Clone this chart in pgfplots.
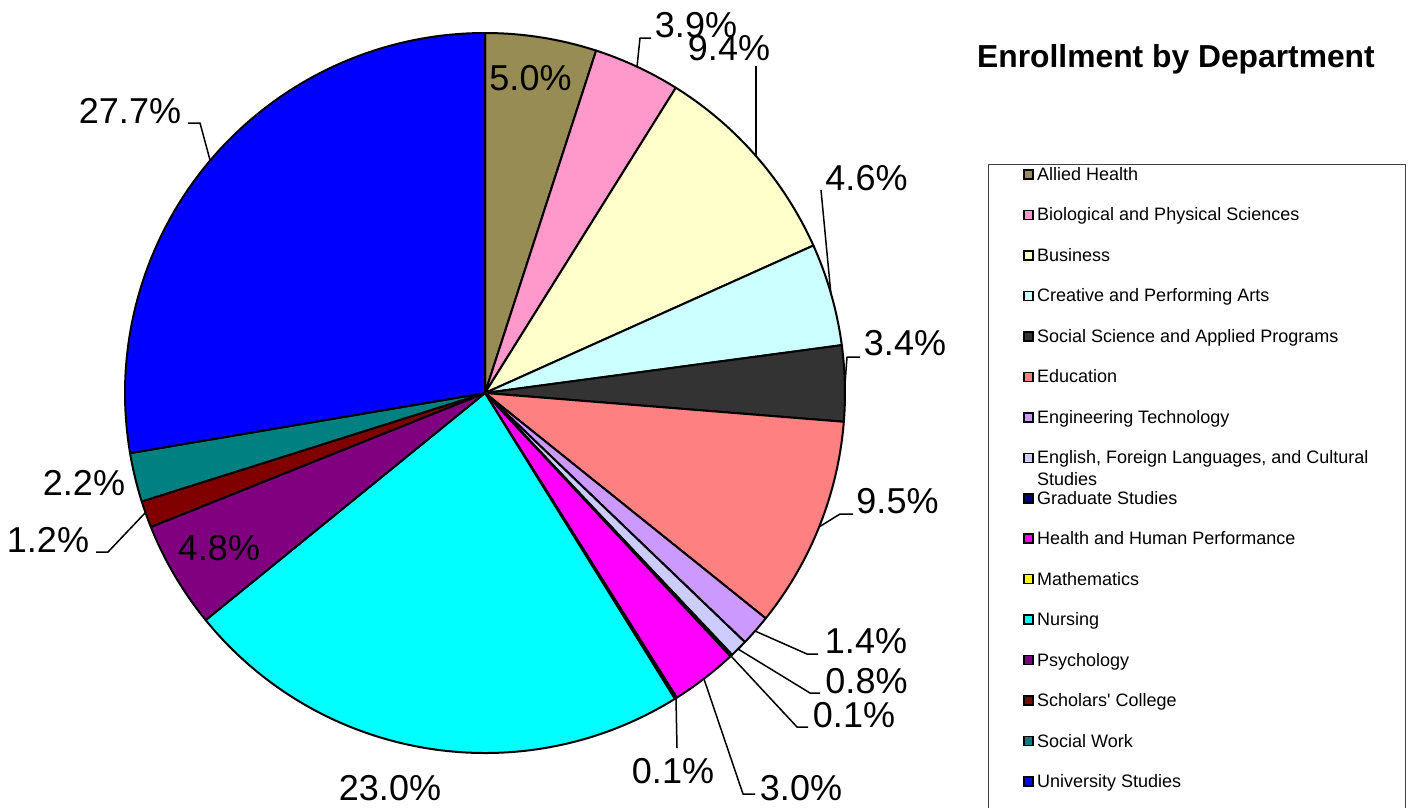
\documentclass[border=0pt]{standalone}
\usepackage{pgfplots}
\usepackage{pgfplotstable}
\pgfplotsset{compat=1.18}
\usepackage{fontspec}
\setmainfont{Liberation Sans}

\definecolor{c0}{HTML}{978C54}
\definecolor{c1}{HTML}{FF99CC}
\definecolor{c2}{HTML}{FFFFCC}
\definecolor{c3}{HTML}{CCFFFF}
\definecolor{c4}{HTML}{333333}
\definecolor{c5}{HTML}{FF8080}
\definecolor{c6}{HTML}{CC99FF}
\definecolor{c7}{HTML}{CCCCFF}
\definecolor{c8}{HTML}{000080}
\definecolor{c9}{HTML}{FF00FF}
\definecolor{c10}{HTML}{FFFF00}
\definecolor{c11}{HTML}{00FFFF}
\definecolor{c12}{HTML}{800080}
\definecolor{c13}{HTML}{800000}
\definecolor{c14}{HTML}{008080}
\definecolor{c15}{HTML}{0000FF}

% pct = share of enrollment; lx, ly = label position (centre x, baseline y)
\pgfplotstableread{
pct   lx     ly
5.0   530.5  90
3.9   696    37
9.4   729    60
4.6   866.5  190
3.4   905    355
9.5   897.5  513
1.4   866    653
0.8   866.5  693
0.1   854    727
3.0   801    800
0.1   673    783
23.0  390    800
4.8   219    560
1.2   48     552
2.2   84     495
27.7  130    123
}\piedata

\begin{document}
\begin{tikzpicture}
\path[use as bounding box] (0,0) rectangle (1414pt,807pt);
\begin{axis}[x=1pt, y=1pt, xmin=0, xmax=1414, ymin=0, ymax=807,
  y dir=reverse, hide axis, clip=false, scale only axis,
  at={(0,0)}, anchor=south west]
\pgfplotsextra{
  % wedges
  \gdef\cum{0}
  \foreach \i in {0,...,15}{
    \pgfplotstablegetelem{\i}{pct}\of\piedata
    \pgfmathsetmacro\pp{\pgfplotsretval}
    \pgfmathsetmacro\astart{90-\cum*(360/100.1)}
    \pgfmathsetmacro\aend{90-(\cum+\pp)*(360/100.1)}
    \pgfmathsetmacro\newcum{\cum+\pp}
    \global\let\cum\newcum
    \filldraw[fill=c\i, draw=black, line width=2pt, line join=round]
      (axis cs:485,393) -- ++(\astart:360pt)
      arc[start angle=\astart, end angle=\aend, radius=360pt] -- cycle;
  }
  % percentage labels
  \foreach \i in {0,...,15}{
    \pgfplotstablegetelem{\i}{pct}\of\piedata \let\pct\pgfplotsretval
    \pgfplotstablegetelem{\i}{lx}\of\piedata \let\lx\pgfplotsretval
    \pgfplotstablegetelem{\i}{ly}\of\piedata \let\ly\pgfplotsretval
    \node[anchor=base, inner sep=0pt, font=\fontsize{36}{40}\selectfont]
      at (axis cs:\lx,\ly) {\pct\%};
  }
  % leader lines
  \begin{scope}[line width=1.5pt, line join=round]
  \draw (axis cs:637,67) -- (axis cs:640,38) -- (axis cs:651,38);
  \draw (axis cs:756,157) -- (axis cs:756,66);
  \draw (axis cs:831,295) -- (axis cs:821,190);
  \draw (axis cs:845,384) -- (axis cs:847,357) -- (axis cs:860,357);
  \draw (axis cs:819,527) -- (axis cs:840,514) -- (axis cs:853,514);
  \draw (axis cs:755,631) -- (axis cs:807,654) -- (axis cs:818,654);
  \draw (axis cs:738,649) -- (axis cs:810,693) -- (axis cs:820,693);
  \draw (axis cs:731,656) -- (axis cs:797,727) -- (axis cs:808,727);
  \draw (axis cs:704,679) -- (axis cs:743,794) -- (axis cs:755,794);
  \draw (axis cs:676,699) -- (axis cs:677,748);
  \draw (axis cs:145,513) -- (axis cs:108,552) -- (axis cs:96,552);
  \draw (axis cs:210,160) -- (axis cs:200,123) -- (axis cs:188,123);
  \end{scope}
  % title
  \node[anchor=base west, inner sep=0pt, font=\bfseries\fontsize{31.8}{35}\selectfont]
    at (axis cs:977,67) {Enrollment by Department};
  % legend
  \draw[draw=black!75, line width=1pt] (axis cs:988,812) -- (axis cs:988,164)
     -- (axis cs:1405,164) -- (axis cs:1405,812);
  \foreach \nm [count=\i from 0] in {Allied Health, Biological and Physical Sciences,
     Business, Creative and Performing Arts, Social Science and Applied Programs,
     Education, Engineering Technology, {English, Foreign Languages, and Cultural},
     Graduate Studies, Health and Human Performance, Mathematics, Nursing,
     Psychology, Scholars\textquotesingle{} College, Social Work, University Studies}{
    \pgfmathsetmacro\ya{174.5+40.47*\i-4.5}
    \pgfmathsetmacro\yb{174.5+40.47*\i+4.5}
    \pgfmathsetmacro\yt{174+40.47*\i+6.5}
    \filldraw[fill=c\i, draw=black, line width=1.5pt]
      (axis cs:1024,\ya) rectangle (axis cs:1033,\yb);
    \node[anchor=base west, inner sep=0pt, font=\fontsize{18}{20}\selectfont]
      at (axis cs:1037,\yt) {\nm};
  }
  \node[anchor=base west, inner sep=0pt, font=\fontsize{18}{20}\selectfont]
    at (axis cs:1037,485) {Studies};
}
\end{axis}
\end{tikzpicture}
\end{document}
